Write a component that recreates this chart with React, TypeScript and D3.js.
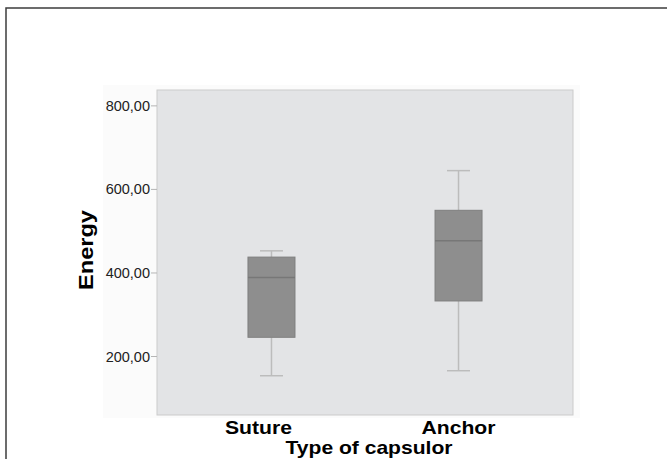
import React from 'react'
import * as d3 from 'd3'

const categories = ['Suture', 'Anchor']
const whiskerLow = [154, 166]
const q1 = [246, 333]
const median = [389, 477]
const q3 = [438, 550]
const whiskerHigh = [453, 645]
const yTicks = [200, 400, 600, 800]
// small shift on the first category label, as in the source picture
const labelShift = [-13, 0]
const labelLength = [67, 74]

const width = 667
const height = 459
const plot = { left: 157, right: 573, top: 90, bottom: 415 }
const boxWidth = 47
const capWidth = 23

const x = d3.scalePoint<string>()
  .domain(categories)
  .range([plot.left, plot.right])
  .padding(0.612)

const y = d3.scaleLinear()
  .domain([60, 838])
  .range([plot.bottom, plot.top])

const fmt = (v: number) => d3.format('.2f')(v).replace('.', ',')
const font = '"Liberation Sans", Arial, Helvetica, sans-serif'

export default function App() {
  return (
    <svg width={width} height={height} style={{ position: 'absolute', left: 0, top: 0, background: '#fff' }}>
      <rect x={6} y={8} width={720} height={520} fill='#fff' stroke='#3c3c3c' strokeWidth={1.5} />
      <rect x={103} y={85} width={477} height={333} fill='#fbfbfb' />
      <rect x={plot.left} y={plot.top} width={plot.right - plot.left} height={plot.bottom - plot.top}
        fill='#e3e4e6' stroke='#cbcbcb' strokeWidth={1} />

      {yTicks.map(t => (
        <g key={t} transform={`translate(0, ${y(t)})`}>
          <line x1={plot.left - 6} x2={plot.left} stroke='#b5b5b5' />
          <text x={plot.left - 7} dy='0.35em' textAnchor='end' fontFamily={font} fontSize={14.5} fill='#222'>
            {fmt(t)}
          </text>
        </g>
      ))}

      {categories.map((c, i) => {
        const cx = x(c) as number
        return (
          <g key={c}>
            <line x1={cx} x2={cx} y1={y(whiskerHigh[i])} y2={y(q3[i])} stroke='#bcbcbc' strokeWidth={1.5} />
            <line x1={cx} x2={cx} y1={y(q1[i])} y2={y(whiskerLow[i])} stroke='#bcbcbc' strokeWidth={1.5} />
            <line x1={cx - capWidth / 2} x2={cx + capWidth / 2} y1={y(whiskerHigh[i])} y2={y(whiskerHigh[i])} stroke='#bcbcbc' strokeWidth={1.5} />
            <line x1={cx - capWidth / 2} x2={cx + capWidth / 2} y1={y(whiskerLow[i])} y2={y(whiskerLow[i])} stroke='#bcbcbc' strokeWidth={1.5} />
            <rect x={cx - boxWidth / 2} y={y(q3[i])} width={boxWidth} height={y(q1[i]) - y(q3[i])}
              fill='#8e8e8e' stroke='#7f7f7f' strokeWidth={1} />
            <line x1={cx - boxWidth / 2} x2={cx + boxWidth / 2} y1={y(median[i])} y2={y(median[i])} stroke='#777' strokeWidth={1.5} />
            <text x={cx + labelShift[i]} y={434} textAnchor='middle' fontFamily={font} fontWeight='bold'
              fontSize={19} textLength={labelLength[i]} lengthAdjust='spacingAndGlyphs' fill='#000'>{c}</text>
          </g>
        )
      })}

      <text x={369} y={454} textAnchor='middle' fontFamily={font} fontWeight='bold' fontSize={19}
        textLength={167} lengthAdjust='spacingAndGlyphs' fill='#000'>Type of capsulor</text>
      <text transform={`translate(93, 250) rotate(-90)`} textAnchor='middle' fontFamily={font} fontWeight='bold'
        fontSize={20} textLength={80} lengthAdjust='spacingAndGlyphs' fill='#000'>Energy</text>
    </svg>
  )
}
